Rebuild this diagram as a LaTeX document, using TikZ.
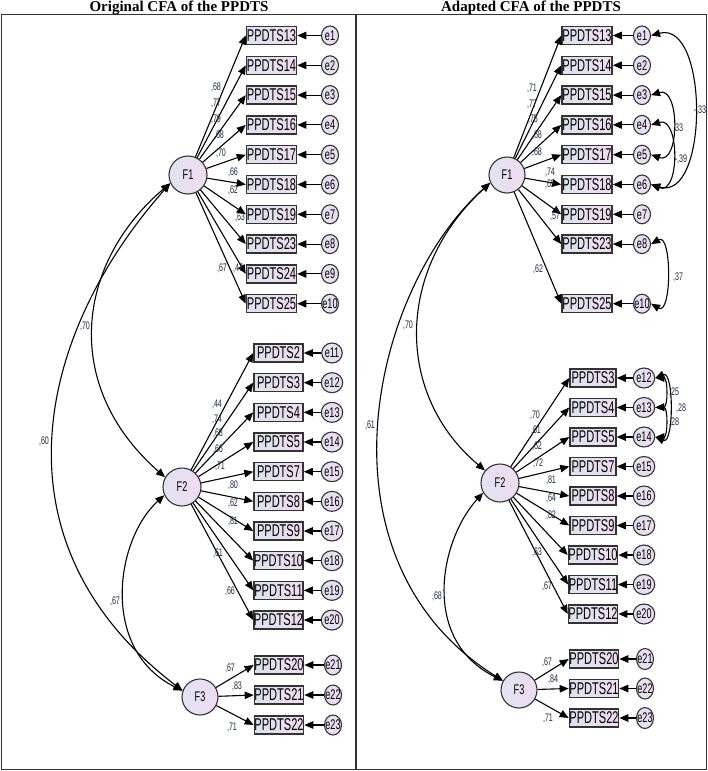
\documentclass[tikz,border=0pt]{standalone}
\usepackage{fontspec}
\newfontfamily\amos{Liberation Sans}[FakeStretch=0.65]
\newfontfamily\ttl{Liberation Serif}
\usetikzlibrary{positioning,shapes.geometric,arrows.meta}
\definecolor{boxL}{HTML}{DCE2EE}
\definecolor{boxR}{HTML}{EFDCEF}
\definecolor{facL}{HTML}{E2E2F2}
\definecolor{facR}{HTML}{EFDCF0}
\definecolor{edgeC}{HTML}{333333}
\definecolor{numC}{HTML}{1E2A44}

\begin{document}
\begin{tikzpicture}[x=1pt, y=-1pt, node distance=29.8pt, line width=1.1pt,
  >={Triangle[length=9pt,width=7.5pt]},
  box/.style = {draw=edgeC, line width=1.5pt, left color=boxL, right color=boxR, minimum width=50pt, minimum height=18pt, inner sep=0pt, font=\amos\fontsize{17}{17}\selectfont},
  fac/.style = {draw=edgeC, circle, left color=facL, right color=facR, minimum size=38pt, inner sep=0pt, font=\amos\fontsize{14}{14}\selectfont},
  err/.style = {draw=edgeC, ellipse, left color=facL, right color=facR, minimum width=17pt, minimum height=19pt, inner sep=0pt, font=\amos\fontsize{14}{14}\selectfont},
  num/.style = {text=numC, inner sep=0pt, font=\amos\fontsize{11}{11}\selectfont},
  panel/.style = {draw=edgeC, line width=1.8pt},
  head/.style = {inner sep=0pt, anchor=base, font=\ttl\bfseries\fontsize{15}{15}\selectfont}]
\useasboundingbox (0,0) rectangle (708,771);
\fill[white] (0,0) rectangle (708,771);

% frame
\draw[panel] (1.5,14.5) rectangle (706.5,769.5);
\draw[panel] (356,14.5) -- (356,769.5);
\node[head] (ohead) at (179,11.2) {Original CFA of the PPDTS};
\node[head] (ahead) at (531,11.2) {Adapted CFA of the PPDTS};

%%%%% original model
\node[fac] (oF1) at (188,175) {F1};
\node[fac] (oF2) at (182,487) {F2};
\node[fac, minimum size=36pt] (oF3) at (200,697) {F3};

% F1 items
\node[box] (o13) at (271.5,35.5) {PPDTS13};
\node[box] (o14) [below of=o13] {PPDTS14};
\node[box] (o15) [below of=o14] {PPDTS15};
\node[box] (o16) [below of=o15] {PPDTS16};
\node[box] (o17) [below of=o16] {PPDTS17};
\node[box] (o18) [below of=o17] {PPDTS18};
\node[box] (o19) [below of=o18] {PPDTS19};
\node[box] (o23) [below of=o19] {PPDTS23};
\node[box] (o24) [below of=o23] {PPDTS24};
\node[box] (o25) [below of=o24] {PPDTS25};
\node[err] (oe1) [right of=o13, node distance=58.5pt] {e1};
\node[err] (oe2) [right of=o14, node distance=58.5pt] {e2};
\node[err] (oe3) [right of=o15, node distance=58.5pt] {e3};
\node[err] (oe4) [right of=o16, node distance=58.5pt] {e4};
\node[err] (oe5) [right of=o17, node distance=58.5pt] {e5};
\node[err] (oe6) [right of=o18, node distance=58.5pt] {e6};
\node[err] (oe7) [right of=o19, node distance=58.5pt] {e7};
\node[err] (oe8) [right of=o23, node distance=58.5pt] {e8};
\node[err] (oe9) [right of=o24, node distance=58.5pt] {e9};
\node[err] (oe10) [right of=o25, node distance=58.5pt] {\makebox[0pt]{e10}};

% F2 items
\begin{scope}[node distance=29.67pt, box/.append style={minimum width=49pt}, err/.append style={minimum height=20pt}]
\node[box] (o2) at (278.5,353) {PPDTS2};
\node[box] (o3) [below of=o2] {PPDTS3};
\node[box] (o4) [below of=o3] {PPDTS4};
\node[box] (o5) [below of=o4] {PPDTS5};
\node[box] (o7) [below of=o5] {PPDTS7};
\node[box] (o8) [below of=o7] {PPDTS8};
\node[box] (o9) [below of=o8] {PPDTS9};
\node[box] (o10) [below of=o9] {PPDTS10};
\node[box] (o11) [below of=o10] {PPDTS11};
\node[box] (o12) [below of=o11] {PPDTS12};
\node[err] (oe11) [right of=o2, node distance=53.5pt] {e11};
\node[err] (oe12) [right of=o3, node distance=53.5pt] {e12};
\node[err] (oe13) [right of=o4, node distance=53.5pt] {e13};
\node[err] (oe14) [right of=o5, node distance=53.5pt] {e14};
\node[err] (oe15) [right of=o7, node distance=53.5pt] {e15};
\node[err] (oe16) [right of=o8, node distance=53.5pt] {e16};
\node[err] (oe17) [right of=o9, node distance=53.5pt] {e17};
\node[err] (oe18) [right of=o10, node distance=53.5pt] {e18};
\node[err] (oe19) [right of=o11, node distance=53.5pt] {e19};
\node[err] (oe20) [right of=o12, node distance=53.5pt] {e20};
\end{scope}

% F3 items
\begin{scope}[node distance=30pt, box/.append style={minimum width=48pt}, err/.append style={minimum height=20pt}]
\node[box] (o20) at (279,665) {PPDTS20};
\node[box] (o21) [below of=o20] {PPDTS21};
\node[box] (o22) [below of=o21] {PPDTS22};
\node[err] (oe21) [right of=o20, node distance=54pt] {\makebox[0pt]{e21}};
\node[err] (oe22) [right of=o21, node distance=54pt] {\makebox[0pt]{e22}};
\node[err] (oe23) [right of=o22, node distance=54pt] {\makebox[0pt]{e23}};
\end{scope}

% loadings
\draw[->] (oF1) -- (o13.west);
\draw[->] (oF1) -- (o14.west);
\draw[->] (oF1) -- (o15.west);
\draw[->] (oF1) -- (o16.west);
\draw[->] (oF1) -- (o17.west);
\draw[->] (oF1) -- (o18.west);
\draw[->] (oF1) -- (o19.west);
\draw[->] (oF1) -- (o23.west);
\draw[->] (oF1) -- (o24.west);
\draw[->] (oF1) -- (o25.west);
\draw[->] (oF2) -- (o2.west);
\draw[->] (oF2) -- (o3.west);
\draw[->] (oF2) -- (o4.west);
\draw[->] (oF2) -- (o5.west);
\draw[->] (oF2) -- (o7.west);
\draw[->] (oF2) -- (o8.west);
\draw[->] (oF2) -- (o9.west);
\draw[->] (oF2) -- (o10.west);
\draw[->] (oF2) -- (o11.west);
\draw[->] (oF2) -- (o12.west);
\draw[->] (oF3) -- (o20.west);
\draw[->] (oF3) -- (o21.west);
\draw[->] (oF3) -- (o22.west);

% errors
\draw[->] (oe1) -- (o13);
\draw[->] (oe2) -- (o14);
\draw[->] (oe3) -- (o15);
\draw[->] (oe4) -- (o16);
\draw[->] (oe5) -- (o17);
\draw[->] (oe6) -- (o18);
\draw[->] (oe7) -- (o19);
\draw[->] (oe8) -- (o23);
\draw[->] (oe9) -- (o24);
\draw[->] (oe10) -- (o25);
\draw[->] (oe11) -- (o2);
\draw[->] (oe12) -- (o3);
\draw[->] (oe13) -- (o4);
\draw[->] (oe14) -- (o5);
\draw[->] (oe15) -- (o7);
\draw[->] (oe16) -- (o8);
\draw[->] (oe17) -- (o9);
\draw[->] (oe18) -- (o10);
\draw[->] (oe19) -- (o11);
\draw[->] (oe20) -- (o12);
\draw[->] (oe21) -- (o20);
\draw[->] (oe22) -- (o21);
\draw[->] (oe23) -- (o22);

% covariances
\draw[<->] (oF1.205) .. controls (77,262) and (60,385) .. (oF2.150);
\draw[<->] (oF1.205) .. controls (40,330) and (-15,540) .. (oF3.160);
\draw[<->] (oF2.205) .. controls (115,540) and (100,650) .. (oF3.160);

% estimates
\node[num] (ol13) at (216,87) {,68};
\node[num] (ol14) at (216,103) {,77};
\node[num] (ol15) at (216,119) {,79};
\node[num] (ol16) at (219,135) {,68};
\node[num] (ol17) at (221,153) {,70};
\node[num] (ol18) at (233,172) {,66};
\node[num] (ol19) at (233,190) {,62};
\node[num] (ol23) at (240,217) {,63};
\node[num] (ol24) at (222,268) {,67};
\node[num] (ol25) at (238,268) {,47};
\node[num] (ol2) at (217,404) {,44};
\node[num] (ol3) at (217,419) {,74};
\node[num] (ol4) at (218,433) {,68};
\node[num] (ol5) at (218,449) {,66};
\node[num] (ol7) at (220,466) {,71};
\node[num] (ol8) at (233,485) {,80};
\node[num] (ol9) at (233,503) {,62};
\node[num] (ol10) at (233,521) {,81};
\node[num] (ol11) at (218,553) {,61};
\node[num] (ol12) at (230,591) {,66};
\node[num] (ol20) at (230,668) {,67};
\node[num] (ol21) at (237,686) {,83};
\node[num] (ol22) at (232,727) {,71};
\node[num] (oc12) at (85,326) {,70};
\node[num] (oc13) at (44,441) {,60};
\node[num] (oc23) at (115,601) {,67};

%%%%% adapted model
\node[fac, minimum size=36pt] (aF1) at (507,175) {F1};
\node[fac] (aF2) at (500,483) {F2};
\node[fac, minimum size=36pt] (aF3) at (519,690) {F3};

% F1 items
\node[box] (a13) at (587,35.5) {PPDTS13};
\node[box] (a14) [below of=a13] {PPDTS14};
\node[box] (a15) [below of=a14] {PPDTS15};
\node[box] (a16) [below of=a15] {PPDTS16};
\node[box] (a17) [below of=a16] {PPDTS17};
\node[box] (a18) [below of=a17] {PPDTS18};
\node[box] (a19) [below of=a18] {PPDTS19};
\node[box] (a23) [below of=a19] {PPDTS23};
\node[box] (a25) [below of=a23, node distance=59.6pt] {PPDTS25};
\node[err] (ae1) [right of=a13, node distance=55pt] {e1};
\node[err] (ae2) [right of=a14, node distance=55pt] {e2};
\node[err] (ae3) [right of=a15, node distance=55pt] {e3};
\node[err] (ae4) [right of=a16, node distance=55pt] {e4};
\node[err] (ae5) [right of=a17, node distance=55pt] {e5};
\node[err] (ae6) [right of=a18, node distance=55pt] {e6};
\node[err] (ae7) [right of=a19, node distance=55pt] {e7};
\node[err] (ae8) [right of=a23, node distance=55pt] {e8};
\node[err] (ae10) [right of=a25, node distance=55pt] {\makebox[0pt]{e10}};

% F2 items
\begin{scope}[node distance=29.5pt, box/.append style={minimum width=46pt}, err/.append style={minimum height=20pt}]
\node[box] (a3) at (593,378) {PPDTS3};
\node[box] (a4) [below of=a3] {PPDTS4};
\node[box] (a5) [below of=a4] {PPDTS5};
\node[box] (a7) [below of=a5] {PPDTS7};
\node[box] (a8) [below of=a7] {PPDTS8};
\node[box] (a9) [below of=a8] {PPDTS9};
\node[box] (a10) [below of=a9] {PPDTS10};
\node[box] (a11) [below of=a10] {PPDTS11};
\node[box] (a12) [below of=a11] {PPDTS12};
\node[err] (ae12) [right of=a3, node distance=51pt] {e12};
\node[err] (ae13) [right of=a4, node distance=51pt] {e13};
\node[err] (ae14) [right of=a5, node distance=51pt] {e14};
\node[err] (ae15) [right of=a7, node distance=51pt] {e15};
\node[err] (ae16) [right of=a8, node distance=51pt] {e16};
\node[err] (ae17) [right of=a9, node distance=51pt] {e17};
\node[err] (ae18) [right of=a10, node distance=51pt] {e18};
\node[err] (ae19) [right of=a11, node distance=51pt] {e19};
\node[err] (ae20) [right of=a12, node distance=51pt] {e20};
\end{scope}

% F3 items
\begin{scope}[node distance=29.5pt, box/.append style={minimum width=46pt}, err/.append style={minimum height=21pt}]
\node[box] (a20) at (594,659) {PPDTS20};
\node[box] (a21) [below of=a20] {PPDTS21};
\node[box] (a22) [below of=a21] {PPDTS22};
\node[err] (ae21) [right of=a20, node distance=51pt] {\makebox[0pt]{e21}};
\node[err] (ae22) [right of=a21, node distance=51pt] {\makebox[0pt]{e22}};
\node[err] (ae23) [right of=a22, node distance=51pt] {\makebox[0pt]{e23}};
\end{scope}

% loadings
\draw[->] (aF1) -- (a13.west);
\draw[->] (aF1) -- (a14.west);
\draw[->] (aF1) -- (a15.west);
\draw[->] (aF1) -- (a16.west);
\draw[->] (aF1) -- (a17.west);
\draw[->] (aF1) -- (a18.west);
\draw[->] (aF1) -- (a19.west);
\draw[->] (aF1) -- (a23.west);
\draw[->] (aF1) -- (a25.west);
\draw[->] (aF2) -- (a3.west);
\draw[->] (aF2) -- (a4.west);
\draw[->] (aF2) -- (a5.west);
\draw[->] (aF2) -- (a7.west);
\draw[->] (aF2) -- (a8.west);
\draw[->] (aF2) -- (a9.west);
\draw[->] (aF2) -- (a10.west);
\draw[->] (aF2) -- (a11.west);
\draw[->] (aF2) -- (a12.west);
\draw[->] (aF3) -- (a20.west);
\draw[->] (aF3) -- (a21.west);
\draw[->] (aF3) -- (a22.west);

% errors
\draw[->] (ae1) -- (a13);
\draw[->] (ae2) -- (a14);
\draw[->] (ae3) -- (a15);
\draw[->] (ae4) -- (a16);
\draw[->] (ae5) -- (a17);
\draw[->] (ae6) -- (a18);
\draw[->] (ae7) -- (a19);
\draw[->] (ae8) -- (a23);
\draw[->] (ae10) -- (a25);
\draw[->] (ae12) -- (a3);
\draw[->] (ae13) -- (a4);
\draw[->] (ae14) -- (a5);
\draw[->] (ae15) -- (a7);
\draw[->] (ae16) -- (a8);
\draw[->] (ae17) -- (a9);
\draw[->] (ae18) -- (a10);
\draw[->] (ae19) -- (a11);
\draw[->] (ae20) -- (a12);
\draw[->] (ae21) -- (a20);
\draw[->] (ae22) -- (a21);
\draw[->] (ae23) -- (a22);

% covariances
\draw[<->] (aF1.205) .. controls (395,270) and (395,395) .. (aF2.140);
\draw[<->] (aF1.205) .. controls (370,290) and (310,560) .. (aF3.150);
\draw[<->] (aF2.210) .. controls (440,540) and (420,640) .. (aF3.150);
\draw[<->] (ae1.east) .. controls (709,20) and (709,202) .. (ae6.east);
\draw[<->] (ae3.east) .. controls (680,86) and (680,165) .. (ae5.east);
\draw[<->] (ae4.east) .. controls (680,116) and (680,196) .. (ae6.east);
\draw[<->] (ae8.east) .. controls (672,232) and (672,316) .. (ae10.east);
\draw[<->] (ae12.east) .. controls (668,378) and (668,407) .. (ae13.east);
\draw[<->] (ae12.east) .. controls (674,370) and (674,445) .. (ae14.east);
\draw[<->] (ae13.east) .. controls (668,407) and (668,437) .. (ae14.east);

% estimates
\node[num] (al13) at (532,88) {,71};
\node[num] (al14) at (532,104) {,77};
\node[num] (al15) at (533,119) {,75};
\node[num] (al16) at (537,135) {,68};
\node[num] (al17) at (537,152) {,68};
\node[num] (al18) at (550,172) {,74};
\node[num] (al19) at (550,184) {,65};
\node[num] (al23) at (555,216) {,57};
\node[num] (al25) at (538,269) {,62};
\node[num] (al3) at (535,415) {,70};
\node[num] (al4) at (536,430) {,61};
\node[num] (al5) at (537,446) {,62};
\node[num] (al7) at (538,463) {,72};
\node[num] (al8) at (551,480) {,81};
\node[num] (al9) at (551,498) {,64};
\node[num] (al10) at (551,515) {,82};
\node[num] (al11) at (537,552) {,63};
\node[num] (al12) at (547,586) {,67};
\node[num] (al20) at (547,662) {,67};
\node[num] (al21) at (553,679) {,84};
\node[num] (al22) at (548,718) {,71};
\node[num] (ac12) at (408,325) {,70};
\node[num] (ac13) at (370,425) {,61};
\node[num] (ac23) at (437,596) {,68};
\node[num] (ae1e6) at (700,110) {-,33};
\node[num] (ae3e5) at (678,128) {,33};
\node[num] (ae4e6) at (681,159) {-,39};
\node[num] (ae8e10) at (678,277) {,37};
\node[num] (ae12e13) at (674,392) {,25};
\node[num] (ae12e14) at (681,408) {,28};
\node[num] (ae13e14) at (674,422) {,28};
\end{tikzpicture}
\end{document}
